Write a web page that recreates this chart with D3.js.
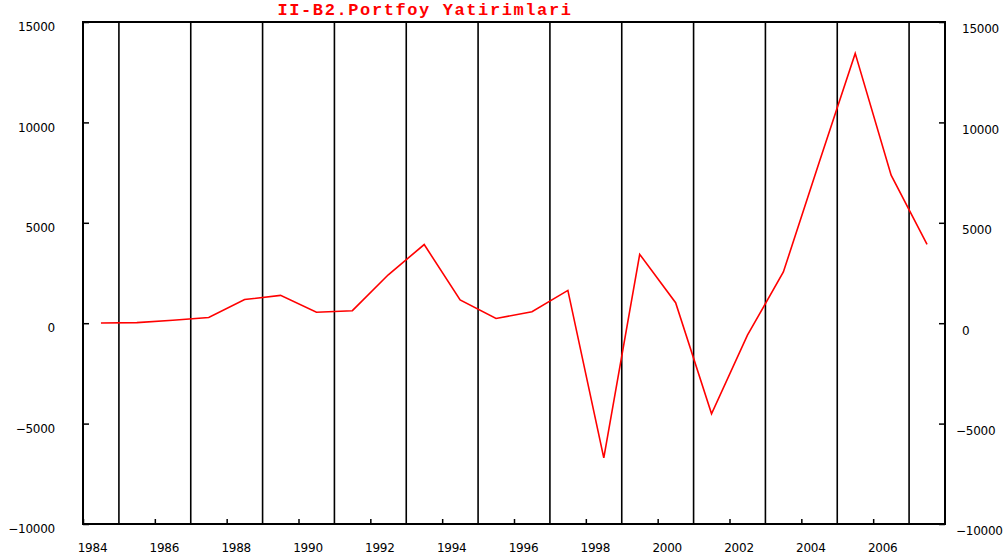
<!DOCTYPE html>
<html>
<head>
<meta charset="utf-8">
<script src="https://cdn.jsdelivr.net/npm/d3@7"></script>
<style>
  body { margin: 0; background: #fff; }
  svg { display: block; }
</style>
</head>
<body>
<div id="chart"></div>
<script>
  const years = [1984, 1985, 1986, 1987, 1988, 1989, 1990, 1991, 1992, 1993, 1994, 1995,
    1996, 1997, 1998, 1999, 2000, 2001, 2002, 2003, 2004, 2005, 2006, 2007];
  const values = [10, 30, 146, 282, 1178, 1386, 547, 623, 2411, 3917, 1158, 237,
    570, 1634, -6711, 3429, 1022, -4515, -593, 2550, 8023, 13437, 7373, 3930];
  const xTickYears = [1984, 1986, 1988, 1990, 1992, 1994, 1996, 1998, 2000, 2002, 2004, 2006];
  const gridYears = [1985, 1987, 1989, 1991, 1993, 1995, 1997, 1999, 2001, 2003, 2005, 2007];
  const yTicks = [-10000, -5000, 0, 5000, 10000, 15000];
  const title = "II-B2.Portfoy Yatirimlari";

  const width = 1005, height = 556;
  const plotLeft = 83, plotRight = 945, plotTop = 22, plotBottom = 524;

  const svg = d3.select("#chart").append("svg")
    .attr("width", width)
    .attr("height", height);

  const x = d3.scaleLinear().domain([1984, 2008]).range([plotLeft, plotRight]);
  const y = d3.scaleLinear().domain([-10000, 15000]).range([plotBottom, plotTop]);

  // title
  svg.append("text")
    .attr("x", 425)
    .attr("y", 15)
    .attr("text-anchor", "middle")
    .style("font-family", "'Liberation Mono', 'DejaVu Sans Mono', monospace")
    .style("font-weight", "bold")
    .style("font-size", "17px")
    .style("letter-spacing", "1.6px")
    .style("fill", "#ff0000")
    .text(title);

  // vertical lines on odd years
  svg.append("g")
    .selectAll("line")
    .data(gridYears)
    .enter()
    .append("line")
    .attr("x1", d => x(d)).attr("x2", d => x(d))
    .attr("y1", plotTop).attr("y2", plotBottom)
    .attr("stroke", "#000")
    .attr("stroke-width", 1.6);

  // axes
  const fontStyle = g => g.selectAll("text")
    .style("font-family", "'DejaVu Sans', Verdana, sans-serif")
    .style("font-size", "12px")
    .style("letter-spacing", "-0.25px")
    .style("fill", "#000");

  const xAxis = svg.append("g")
    .attr("transform", "translate(0," + plotBottom + ")")
    .call(d3.axisBottom(x).tickValues(xTickYears).tickSize(-5).tickPadding(0).tickFormat(d3.format("d")));
  xAxis.select(".domain").remove();
  xAxis.selectAll("line").attr("stroke-width", 1.5);
  xAxis.selectAll("text").attr("dx", 9).attr("y", 19);
  xAxis.call(fontStyle);

  const yLeft = svg.append("g")
    .attr("transform", "translate(" + plotLeft + ",0)")
    .call(d3.axisLeft(y).tickValues(yTicks).tickSize(-6).tickPadding(0).tickFormat(d3.format("d")));
  yLeft.select(".domain").remove();
  yLeft.selectAll("line").attr("stroke-width", 1.5);
  yLeft.selectAll("text").attr("x", -28).attr("dy", "0.72em");
  yLeft.call(fontStyle);

  const yRight = svg.append("g")
    .attr("transform", "translate(" + plotRight + ",0)")
    .call(d3.axisRight(y).tickValues(yTicks).tickSize(-6).tickPadding(0).tickFormat(d3.format("d")));
  yRight.select(".domain").remove();
  yRight.selectAll("line").attr("stroke-width", 1.5);
  yRight.selectAll("text")
    .attr("x", d => d < 0 ? 11 : 17)
    .attr("dy", "0.9em");
  yRight.call(fontStyle);

  // frame
  svg.append("rect")
    .attr("x", plotLeft).attr("y", plotTop)
    .attr("width", plotRight - plotLeft).attr("height", plotBottom - plotTop)
    .attr("fill", "none")
    .attr("stroke", "#000")
    .attr("stroke-width", 2);

  // data line, points at mid-year
  const line = d3.line()
    .x((d, i) => x(years[i] + 0.5))
    .y(d => y(d));

  svg.append("path")
    .datum(values)
    .attr("fill", "none")
    .attr("stroke", "#ff0000")
    .attr("stroke-width", 1.6)
    .attr("d", line);
</script>
</body>
</html>
